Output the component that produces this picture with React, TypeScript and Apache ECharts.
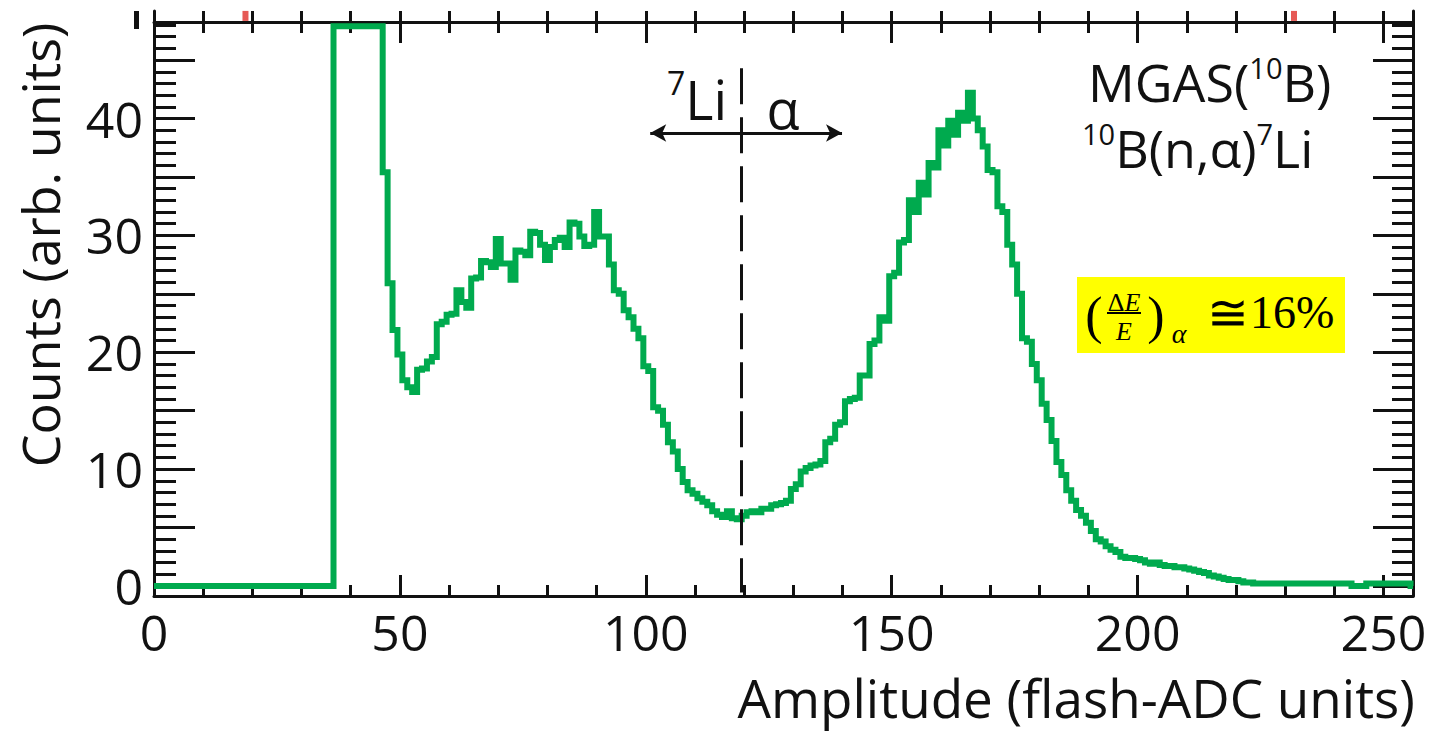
import React, { useEffect, useRef } from "react";
import * as echarts from "echarts";

// ---- data ----
const X_MIN = 0;
const X_MAX = 256;
const Y_MIN = -0.86;
const Y_MAX = 49.2;

// bins 0..36 are empty
const leadingZeros: number[] = new Array(37).fill(0);
// bins 37..46 are clipped at the frame top
const clippedBins: number[] = [47.9, 47.9, 47.9, 47.9, 47.9, 47.9, 47.9, 47.9, 47.9, 47.9];
// bins 47..106 (7Li shoulder)
const liRegion: number[] = [
  35.4, 25.9, 21.9, 19.8, 17.6, 17.0, 16.6, 18.5, 18.6, 19.2,
  19.6, 22.4, 22.6, 23.2, 23.3, 25.3, 24.3, 23.8, 26.3, 26.4,
  27.8, 27.7, 27.3, 29.7, 27.6, 27.6, 26.2, 28.7, 28.6, 28.3,
  30.3, 30.2, 29.2, 27.9, 29.0, 29.6, 29.8, 29.0, 31.1, 31.0,
  29.9, 29.1, 29.2, 32.0, 29.9, 29.9, 27.5, 25.3, 25.0, 23.6,
  23.0, 22.0, 21.2, 18.8, 18.4, 15.3, 15.0, 13.8, 12.3, 11.5,
];
// bins 107..136 (valley)
const valleyRegion: number[] = [
  10.0, 8.9, 8.2, 7.9, 7.5, 7.2, 6.9, 6.4, 6.1, 5.9,
  6.4, 5.8, 5.7, 6.0, 6.3, 6.4, 6.3, 6.6, 6.6, 6.9,
  7.0, 7.1, 7.3, 8.3, 8.7, 9.8, 10.1, 10.3, 10.4, 10.7,
];
// bins 137..196 (alpha peak)
const alphaRegion: number[] = [
  12.3, 12.6, 13.8, 14.0, 15.8, 16.0, 16.1, 18.0, 18.0, 20.7,
  21.0, 23.0, 22.7, 26.5, 26.8, 29.4, 29.6, 33.0, 32.0, 34.5,
  33.5, 36.2, 35.8, 39.0, 37.7, 39.8, 38.6, 40.5, 39.8, 42.2,
  40.0, 39.0, 37.6, 35.6, 35.4, 32.5, 32.0, 29.2, 27.5, 25.0,
  21.2, 20.9, 19.0, 17.6, 15.6, 14.2, 12.4, 10.6, 9.5, 8.2,
  7.3, 6.5, 6.0, 5.4, 4.7, 4.0, 3.8, 3.4, 3.1, 2.9,
];
// bins 197..256 (tail)
const tailRegion: number[] = [
  2.5, 2.4, 2.4, 2.3, 2.2, 2.0, 1.9, 2.0, 1.8, 1.7,
  1.7, 1.6, 1.6, 1.5, 1.4, 1.3, 1.2, 1.1, 0.9, 0.8,
  0.7, 0.6, 0.5, 0.5, 0.4, 0.3, 0.3, 0.2, 0.2, 0.2,
  0.2, 0.2, 0.2, 0.2, 0.2, 0.2, 0.2, 0.2, 0.2, 0.2,
  0.2, 0.2, 0.2, 0.2, 0.2, 0.2, 0.2, 0.0, 0.0, 0.0,
  0.2, 0.2, 0.2, 0.2, 0.2, 0.2, 0.2, 0.2, 0.2, 0.0,
];
const counts: number[] = [...leadingZeros, ...clippedBins, ...liRegion, ...valleyRegion, ...alphaRegion, ...tailRegion];

const xLabelValues = [0, 50, 100, 150, 200, 250];
const xMinorValues = [0, 10, 20, 30, 40, 50, 60, 70, 80, 90, 100, 110, 120, 130, 140, 150, 160, 170, 180, 190, 200, 210, 220, 230, 240, 250];
const yLabelValues = [0, 10, 20, 30, 40];
const yMajorValues = [0, 5, 10, 15, 20, 25, 30, 35, 40, 45];
const yMinorValues = [0, 1, 2, 3, 4, 5, 6, 7, 8, 9, 10, 11, 12, 13, 14, 15, 16, 17, 18, 19, 20, 21, 22, 23, 24, 25, 26, 27, 28, 29, 30, 31, 32, 33, 34, 35, 36, 37, 38, 39, 40, 41, 42, 43, 44, 45, 46, 47, 48];

const separatorX = 119.5;
const separatorTop = 44.3;
const arrowFrom = 100.9;
const arrowTo = 139.9;
const arrowY = 38.76;
const redMarks: number[][] = [[18.6, 48.78], [231.8, 48.78]];

const FONT = "Open Sans";
const INK = "#111";
const GREEN = "#00aa4e";

export default function App() {
  const ref = useRef<HTMLDivElement>(null);
  useEffect(() => {
    if (!ref.current) return;
    const chart = echarts.init(ref.current, null, { renderer: "svg" });

    const xBase = {
      type: "value" as const,
      min: X_MIN,
      max: X_MAX,
      splitLine: { show: false },
    };
    const yBase = {
      type: "value" as const,
      min: Y_MIN,
      max: Y_MAX,
      splitLine: { show: false },
    };
    const line = { show: true, onZero: false, lineStyle: { color: INK, width: 3 } };
    const noLine = { show: false, onZero: false };
    const noLabel = { show: false };

    const histData = counts.map((v, i) => [i, v]);

    const supRich = {
      m: { fontFamily: FONT, fontSize: 52, lineHeight: 54, verticalAlign: "bottom", fill: INK },
      s: { fontFamily: FONT, fontSize: 29, lineHeight: 24, verticalAlign: "top", fill: INK },
    };

    chart.setOption({
      animation: false,
      grid: { left: 154, right: 20, top: 11, bottom: 137, containLabel: false },
      xAxis: [
        {
          ...xBase,
          position: "bottom",
          axisLine: line,
          axisTick: { inside: true, length: 21, lineStyle: { color: INK, width: 3 }, customValues: xLabelValues },
          axisLabel: {
            customValues: xLabelValues,
            color: INK,
            fontFamily: FONT,
            fontSize: 50,
            margin: 11,
          },
        },
        {
          ...xBase,
          position: "bottom",
          axisLine: noLine,
          axisTick: { inside: true, length: 11, lineStyle: { color: INK, width: 3 }, customValues: xMinorValues },
          axisLabel: noLabel,
        },
        {
          ...xBase,
          position: "top",
          offset: -11,
          axisLine: line,
          axisTick: { inside: true, length: 21, lineStyle: { color: INK, width: 3 }, customValues: xLabelValues },
          axisLabel: noLabel,
        },
        {
          ...xBase,
          position: "top",
          offset: -11,
          axisLine: noLine,
          axisTick: { inside: true, length: 11, lineStyle: { color: INK, width: 3 }, customValues: xMinorValues },
          axisLabel: noLabel,
        },
        {
          ...xBase,
          position: "top",
          offset: 0,
          axisLine: noLine,
          axisTick: { inside: true, length: 11, lineStyle: { color: INK, width: 3 }, customValues: xMinorValues },
          axisLabel: noLabel,
        },
      ],
      yAxis: [
        {
          ...yBase,
          position: "left",
          axisLine: line,
          axisTick: { inside: true, length: 41, lineStyle: { color: INK, width: 3 }, customValues: yMajorValues },
          axisLabel: {
            customValues: yLabelValues,
            color: INK,
            fontFamily: FONT,
            fontSize: 50,
            margin: 11,
            padding: [0, 0, 8, 0],
          },
        },
        {
          ...yBase,
          position: "left",
          axisLine: noLine,
          axisTick: { inside: true, length: 22, lineStyle: { color: INK, width: 3 }, customValues: yMinorValues },
          axisLabel: noLabel,
        },
        {
          ...yBase,
          position: "right",
          axisLine: line,
          axisTick: { inside: true, length: 40, lineStyle: { color: INK, width: 3 }, customValues: yMajorValues },
          axisLabel: noLabel,
        },
        {
          ...yBase,
          position: "right",
          axisLine: noLine,
          axisTick: { inside: true, length: 21, lineStyle: { color: INK, width: 3 }, customValues: yMinorValues },
          axisLabel: noLabel,
        },
      ],
      series: [
        {
          type: "line",
          name: "counts",
          step: "middle",
          data: histData,
          xAxisIndex: 0,
          yAxisIndex: 0,
          showSymbol: false,
          symbol: "none",
          lineStyle: { color: GREEN, width: 6, join: "miter" },
          clip: true,
          z: 3,
        },
        {
          type: "line",
          name: "annotations",
          data: [],
          xAxisIndex: 0,
          yAxisIndex: 0,
          z: 4,
          markLine: {
            silent: true,
            animation: false,
            label: { show: false },
            data: [
              [
                { coord: [separatorX, separatorTop], symbol: "none" },
                { coord: [separatorX, Y_MIN + 0.3], symbol: "none" },
              ],
            ],
            lineStyle: { color: INK, width: 3, type: [36, 13] },
          },
        },
        {
          type: "line",
          name: "arrow",
          data: [],
          xAxisIndex: 0,
          yAxisIndex: 0,
          z: 4,
          markLine: {
            silent: true,
            animation: false,
            symbol: ["arrow", "arrow"],
            symbolSize: [13, 16],
            label: { show: false },
            data: [[{ coord: [arrowFrom, arrowY] }, { coord: [arrowTo, arrowY] }]],
            lineStyle: { color: INK, width: 3, type: "solid" },
            itemStyle: { color: INK },
          },
        },
        {
          type: "scatter",
          name: "marks",
          data: redMarks,
          symbol: "rect",
          symbolSize: [6, 10],
          itemStyle: { color: "#e0302a" },
          z: 5,
        },
      ],
      graphic: [
        {
          type: "text",
          x: 39,
          y: 245,
          rotation: Math.PI / 2,
          style: {
            text: "Counts (arb. units)",
            fontFamily: FONT,
            fontSize: 52,
            fill: INK,
            align: "center",
            verticalAlign: "middle",
          },
        },
        {
          type: "text",
          x: 1415,
          y: 697,
          style: {
            text: "Amplitude (flash-ADC units)",
            fontFamily: FONT,
            fontSize: 53,
            lineHeight: 54,
            fill: INK,
            align: "right",
            verticalAlign: "middle",
          },
        },
        {
          type: "rect",
          shape: { x: 134, y: 11, width: 5, height: 18 },
          style: { fill: INK },
        },
        {
          type: "text",
          x: 1088,
          y: 53,
          style: {
            text: "{m|MGAS(}{s|10}{m|B)}",
            fill: INK,
            align: "left",
            verticalAlign: "top",
            rich: supRich,
          },
        },
        {
          type: "text",
          x: 1082,
          y: 119,
          style: {
            text: "{s|10}{m|B(n,α)}{s|7}{m|Li}",
            fill: INK,
            align: "left",
            verticalAlign: "top",
            rich: supRich,
          },
        },
        {
          type: "text",
          x: 667,
          y: 66,
          style: {
            text: "{s|7}{m|Li}",
            fill: INK,
            align: "left",
            verticalAlign: "top",
            rich: {
              m: { fontFamily: FONT, fontSize: 54, lineHeight: 60, verticalAlign: "bottom", fill: INK },
              s: { fontFamily: FONT, fontSize: 32, lineHeight: 44, verticalAlign: "top", fill: INK },
            },
          },
        },
        {
          type: "text",
          x: 783,
          y: 108,
          style: {
            text: "α",
            fontFamily: FONT,
            fontSize: 54,
            fill: INK,
            align: "center",
            verticalAlign: "middle",
          },
        },
        {
          type: "group",
          children: [
            { type: "rect", shape: { x: 1077, y: 277, width: 268, height: 76 }, style: { fill: "#ffff00" } },
            {
              type: "text",
              x: 1094,
              y: 315,
              style: { text: "(", fontFamily: "Liberation Serif", fontSize: 52, fill: "#000", align: "center", verticalAlign: "middle" },
            },
            {
              type: "text",
              x: 1124,
              y: 302,
              style: {
                text: "{n|Δ}{i|E}",
                align: "center",
                verticalAlign: "middle",
                rich: {
                  n: { fontFamily: "Liberation Serif", fontSize: 26, fill: "#000" },
                  i: { fontFamily: "Liberation Serif", fontStyle: "italic", fontSize: 26, fill: "#000" },
                },
              },
            },
            { type: "line", shape: { x1: 1107, y1: 313, x2: 1141, y2: 313 }, style: { stroke: "#000", lineWidth: 2 } },
            {
              type: "text",
              x: 1124,
              y: 331,
              style: { text: "E", fontFamily: "Liberation Serif", fontStyle: "italic", fontSize: 26, fill: "#000", align: "center", verticalAlign: "middle" },
            },
            {
              type: "text",
              x: 1156,
              y: 315,
              style: { text: ")", fontFamily: "Liberation Serif", fontSize: 52, fill: "#000", align: "center", verticalAlign: "middle" },
            },
            {
              type: "text",
              x: 1179,
              y: 333,
              style: { text: "α", fontFamily: "Liberation Serif", fontStyle: "italic", fontSize: 28, fill: "#000", align: "center", verticalAlign: "middle" },
            },
            {
              type: "text",
              x: 1228,
              y: 313,
              style: { text: "≅", fontFamily: "Liberation Serif", fontSize: 50, fill: "#000", align: "center", verticalAlign: "middle" },
            },
            {
              type: "text",
              x: 1250,
              y: 312,
              style: { text: "16%", fontFamily: "Liberation Serif", fontSize: 46, fill: "#000", align: "left", verticalAlign: "middle" },
            },
          ],
        },
      ],
    });
    return () => chart.dispose();
  }, []);
  return <div ref={ref} style={{ position: "absolute", left: 0, top: 0, width: 1433, height: 733, background: "#fff" }} />;
}
